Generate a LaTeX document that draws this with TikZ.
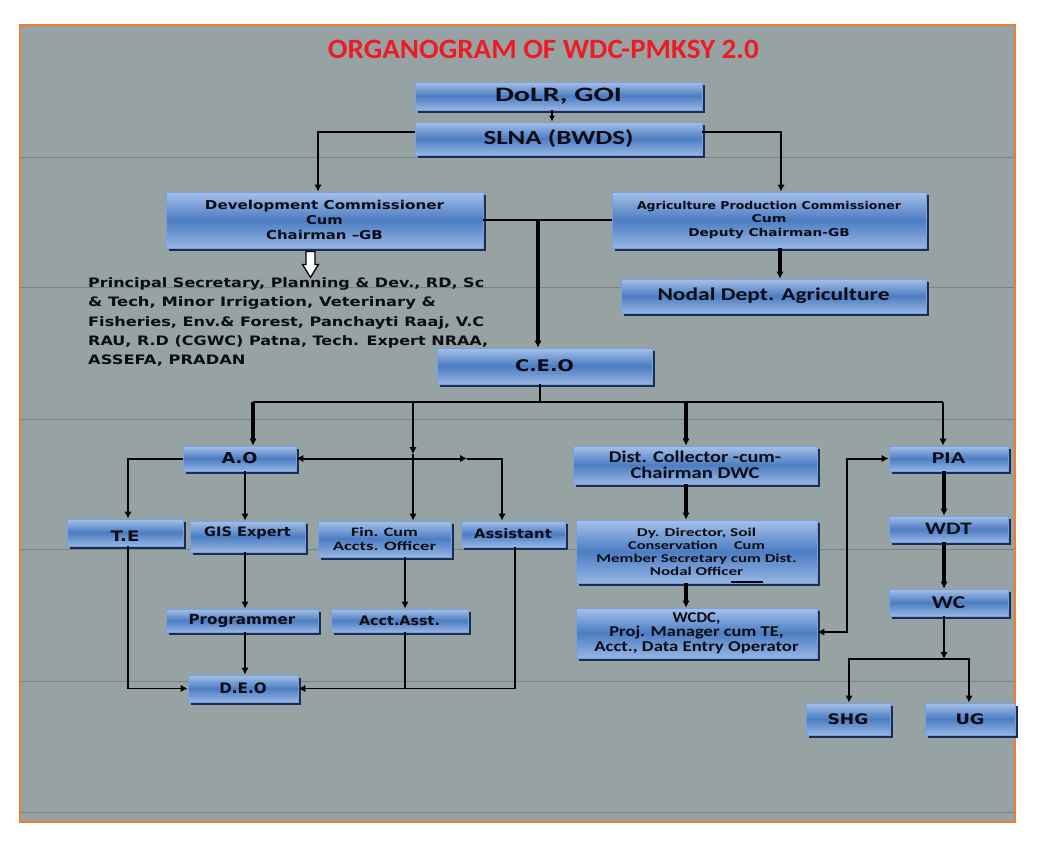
\documentclass[tikz,border=0pt]{standalone}
\usepackage{fontspec}
\setmainfont{Carlito}
\newfontfamily\vf{DejaVu Sans}
\newfontfamily\cf{Carlito}
\usetikzlibrary{arrows.meta,shadows,calc}
\newcommand\wfit[2]{\resizebox{#1pt}{\height}{#2}}
\definecolor{bgc}{RGB}{151,163,163}
\definecolor{bgline}{RGB}{122,131,129}
\definecolor{frame}{RGB}{237,125,49}
\definecolor{btop}{RGB}{166,193,233}
\definecolor{bmid}{RGB}{76,125,194}
\definecolor{bbot}{RGB}{150,182,228}
\definecolor{bbord}{RGB}{120,160,222}
\definecolor{shadowc}{RGB}{28,45,85}
\definecolor{txt}{RGB}{12,12,22}
\definecolor{titred}{RGB}{237,28,36}
\begin{document}
\begin{tikzpicture}[x=1pt,y=-1pt,
  box/.style={draw=bbord, line width=0.8pt, top color=btop, bottom color=bbot, middle color=bmid,
    drop shadow={shadow xshift=3pt,shadow yshift=-3pt,fill=shadowc,opacity=1},
    inner sep=0pt, align=center, text=txt},
  vfnt/.style={font=\vf\bfseries\fontsize{#1}{#1}\selectfont},
  cfnt/.style={font=\cf\bfseries\fontsize{#1}{#1}\selectfont},
  tip/.style={-{Latex[length=7pt,width=7.5pt]}},
  tips/.style={{Latex[length=7pt,width=7.5pt]}-{Latex[length=7pt,width=7.5pt]}},
  wa/.style={line width=3.5pt},
  wb/.style={line width=2.8pt},
  wc/.style={line width=2pt},
  wd/.style={line width=1.3pt}]
\useasboundingbox (0,0) rectangle (1043,847);
\fill[white] (0,0) rectangle (1043,847);
\fill[bgc] (20,25) rectangle (1015,822);
\foreach \yy in {157,287,419,549,681,812}
  \draw[bgline, line width=1pt] (20,\yy) -- (1015,\yy);
\draw[frame, line width=1.5pt] (20,25) rectangle (1015,822);

% title
\node[cfnt=28, text=titred, anchor=base, inner sep=0pt] (title) at (543.5,58.3) {\wfit{431}{ORGANOGRAM OF WDC-PMKSY 2.0}};

% boxes
\node[box, cfnt=20.5, minimum width=287, minimum height=28] (dolr) at (558.5,96) {\wfit{127}{DoLR, GOI}};
\node[box, cfnt=20, minimum width=287, minimum height=33] (slna) at (558.5,138.5) {\wfit{150}{SLNA (BWDS)}};
\node[box, font=\vf\bfseries\fontsize{12.2}{15.4}\selectfont, minimum width=317, minimum height=56] (dev) at (324.5,220)
  {\wfit{239}{Development Commissioner}\\\wfit{36.7}{Cum}\\\wfit{116.7}{Chairman –GB}};
\node[box, font=\vf\bfseries\fontsize{10.8}{13.8}\selectfont, minimum width=314, minimum height=56] (apc) at (769,220)
  {\wfit{264}{Agriculture Production Commissioner}\\\wfit{35}{Cum}\\\wfit{161.3}{Deputy Chairman-GB}};
\node[box, cfnt=18, minimum width=305, minimum height=34] (nodal) at (773.5,296) {\wfit{232}{Nodal Dept. Agriculture}};
\node[box, vfnt=16, minimum width=215, minimum height=36] (ceo) at (544.5,366) {\wfit{59}{C.E.O}};

\node[box, vfnt=15, minimum width=113, minimum height=25] (ao) at (239.5,458.5) {\wfit{36}{A.O}};
\node[box, vfnt=14.5, minimum width=116, minimum height=27, text height=18pt] (te) at (125,532.5) {\wfit{29}{T.E}};
\node[box, vfnt=13, minimum width=115, minimum height=31, text depth=10pt] (gis) at (247.5,536.5) {\wfit{86.7}{GIS Expert}};
\node[box, font=\cf\bfseries\fontsize{12.8}{14}\selectfont, minimum width=133, minimum height=36] (fin) at (384.5,539)
  {\wfit{66.7}{Fin. Cum}\\\wfit{103.3}{Accts. Officer}};
\node[box, vfnt=13, minimum width=104, minimum height=26] (asst) at (513,534) {\wfit{77.7}{Assistant}};
\node[box, vfnt=14, minimum width=152, minimum height=23] (prog) at (242,620.5) {\wfit{106.7}{Programmer}};
\node[box, vfnt=13, minimum width=137, minimum height=23] (acct) at (399.5,620.5) {\wfit{81}{Acct.Asst.}};
\node[box, vfnt=14.5, minimum width=110, minimum height=27] (deo) at (243,688.5) {\wfit{47.3}{D.E.O}};

\node[box, font=\cf\bfseries\fontsize{16.5}{15.7}\selectfont, minimum width=244, minimum height=38] (dc) at (695,465)
  {\wfit{172.3}{Dist. Collector -cum-}\\\wfit{129}{Chairman DWC}};
\node[box, font=\cf\bfseries\fontsize{12}{12.9}\selectfont, minimum width=241, minimum height=63] (dy) at (696.5,551.5)
  {\wfit{119.3}{Dy. Director, Soil}\\\wfit{136.7}{Conservation\quad Cum}\\\wfit{200.3}{Member Secretary cum Dist.}\\\wfit{93.3}{Nodal Officer}};
\node[box, font=\cf\bfseries\fontsize{15}{14.7}\selectfont, minimum width=241, minimum height=50] (wcdc) at (696.5,633)
  {\wfit{47.7}{WCDC,}\\\wfit{174.3}{Proj. Manager cum TE,}\\\wfit{204.3}{Acct., Data Entry Operator}};
\node[box, cfnt=16.5, minimum width=119, minimum height=25] (pia) at (948.5,458.5) {\wfit{33.3}{PIA}};
\node[box, cfnt=17.5, minimum width=119, minimum height=26] (wdt) at (948.5,529) {\wfit{46.7}{WDT}};
\node[box, cfnt=18, minimum width=119, minimum height=27] (wcn) at (948.5,602.5) {\wfit{33.3}{WC}};
\node[box, vfnt=14.5, minimum width=84, minimum height=32] (shg) at (848,719) {\wfit{40.7}{SHG}};
\node[box, vfnt=14.5, minimum width=90, minimum height=32] (ug) at (970,719) {\wfit{29}{UG}};

% text block
\node[font=\vf\bfseries\fontsize{13}{19.25}\selectfont, text=txt, align=left, anchor=north west, inner sep=0pt] (gb) at (88,277.5)
  {\wfit{396}{Principal Secretary, Planning \& Dev., RD, Sc}\\
   \wfit{347.7}{\& Tech, Minor Irrigation, Veterinary \&}\\
   \wfit{396}{Fisheries, Env.\& Forest, Panchayti Raaj, V.C}\\
   \wfit{400}{RAU, R.D (CGWC) Patna, Tech. Expert NRAA,}\\
   \wfit{157.3}{ASSEFA, PRADAN}};

% connectors
\coordinate (x552) at (552,0);
\draw[line width=1.5pt, -{Latex[length=6pt,width=6pt]}] (x552 |- dolr.south) -- (x552 |- slna.north);
\coordinate (y132) at (0,132);
\coordinate (x318) at (318,0);
\coordinate (x781) at (781,0);
\draw[line width=2.5pt, tip] (slna.west |- y132) -| (x318 |- dev.north);
\draw[line width=2.5pt, tip] (slna.east |- y132) -| (x781 |- apc.north);
\draw[wc] (dev.east) -- (apc.west);
\coordinate (j1) at (538,220);
\draw[wa, tip] (j1) -- (j1 |- ceo.north);
\coordinate (x780) at (780,0);
\draw[wa, tip] (x780 |- apc.south) -- (x780 |- nodal.north);
% hollow arrow
\draw[fill=white, line width=1.3pt, line join=miter] ([xshift=-14pt]dev.south) ++(-4.5,3) -- ++(9,0) -- ++(0,13) -- ++(3.5,0) -- ++(-8,13) -- ++(-8,-13) -- ++(3.5,0) -- cycle;

% CEO bus
\coordinate (bL) at (253,402);
\coordinate (bR) at (943,402);
\coordinate (bF) at (413,402);
\coordinate (mF) at (413,454);
\coordinate (bD) at (686,402);
\coordinate (x540) at (540,0);
\draw[wc] (x540 |- ceo.south) -- (x540 |- bL);
\draw[wc] (bL) -- (bR);
\draw[wa, tip] (bL) -- (bL |- ao.north);
\draw[wc, tip] (bF) -- (mF);
\draw[wc, tip] (mF) -- (mF |- fin.north);
\draw[wa, tip] (bD) -- (bD |- dc.north);
\draw[wc, tip] (bR) -- (bR |- pia.north);

% A.O branch
\coordinate (x128) at (128,0);
\coordinate (x245) at (245,0);
\coordinate (x405) at (405,0);
\coordinate (x502) at (502,0);
\coordinate (x515) at (515,0);
\coordinate (mA) at (467,458.5);
\draw[wc, tip] (ao.west) -| (x128 |- te.north);
\draw[wb, tip] (x245 |- ao.south) -- (x245 |- gis.north);
\draw[wc, tips] (ao.east) -- (mA);
\draw[wc, tip] (mA) -| (x502 |- asst.north);
\draw[wb, tip] (x245 |- gis.south) -- (x245 |- prog.north);
\draw[wb, tip] (x245 |- prog.south) -- (x245 |- deo.north);
\draw[wb, tip] (x405 |- fin.south) -- (x405 |- acct.north);
\draw[wd, tip] (x128 |- te.south) |- (deo.west);
\draw[line width=1.5pt, tip] (x515 |- asst.south) |- (deo.east);
\draw[wd] (x405 |- acct.south) -- (x405 |- deo.east);

% district branch
\draw[wa, tip] (bD |- dc.south) -- (bD |- dy.north);
\draw[wa, tip] (bD |- dy.south) -- (bD |- wcdc.north);
\draw[line width=2pt] ([xshift=34pt,yshift=1pt]dy.south) -- ([xshift=66pt,yshift=1pt]dy.south);
\coordinate (x847) at (847,0);
\coordinate (y632) at (0,632);
\draw[wc, tips] (wcdc.east |- y632) -| (x847 |- pia.west) -- (pia.west);

% PIA branch
\coordinate (x944) at (944,0);
\coordinate (jw) at (944,659);
\coordinate (jl) at (849,659);
\coordinate (jr) at (969,659);
\draw[wa, tip] (x944 |- pia.south) -- (x944 |- wdt.north);
\draw[wa, tip] (x944 |- wdt.south) -- (x944 |- wcn.north);
\draw[wb, tip] (x944 |- wcn.south) -- (jw);
\draw[wc, tip] (jw) -- (jl) -- (jl |- shg.north);
\draw[wc, tip] (jw) -- (jr) -- (jr |- ug.north);
\end{tikzpicture}
\end{document}
